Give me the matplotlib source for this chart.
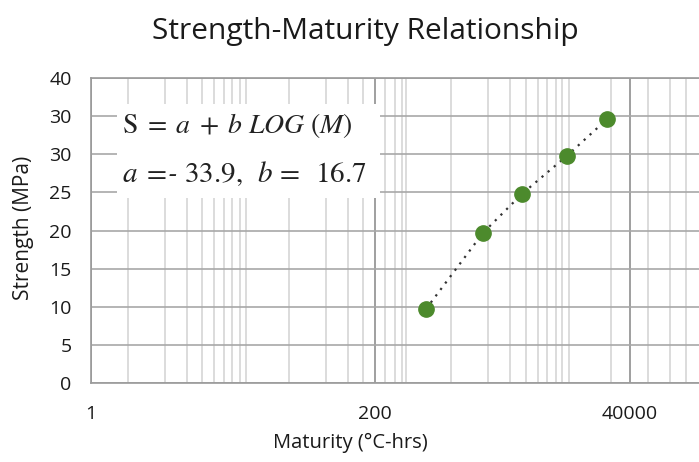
import numpy as np
import matplotlib
matplotlib.use("Agg")
import matplotlib.pyplot as plt
from matplotlib.ticker import FixedLocator
from matplotlib.patches import Rectangle

# ---- data ----
maturity = [577, 1890, 4240, 10800, 24800]      # degC-hrs
strength = [9.7, 19.7, 24.8, 29.8, 34.6]        # MPa

x_major_ticks = [1, 200, 40000]
x_major_labels = ["1", "200", "40000"]
x_minor_ticks = [2, 4, 6, 8, 10, 12, 14, 16, 18, 40, 80, 120, 160,
                 246, 303, 350, 380, 970, 2090, 3300, 4600, 5900, 7100,
                 8600, 9700, 11200, 26700, 58000, 91800, 128000]
y_ticks = [0, 5, 10, 15, 20, 25, 30, 35, 40]
y_labels = ["0", "5", "10", "15", "20", "25", "30", "30", "40"]

title = "Strength-Maturity Relationship"
xlabel = "Maturity (\u00b0C-hrs)"
ylabel = "Strength (MPa)"
eq1 = r"$\mathrm{S}\;=\;a\;+\;b\ LOG\ (M)$"
eq2 = r"$a\;=\!$- $\mathit{33.9},\ \,b\,=\;\;16.7$"

plt.rcParams['font.family'] = ['Open Sans', 'DejaVu Sans']
plt.rcParams['mathtext.fontset'] = 'stix'

# ---- piecewise log scale (axis as drawn in the reference) ----
LA = np.log10(200.0)
S0 = 284.0 / np.log10(200.0)
S1 = 255.0 / np.log10(200.0)


def fwd(x):
    x = np.asarray(x, dtype=float)
    lx = np.log10(np.clip(x, 1e-300, None))
    return np.where(lx < LA, lx * S0, 284.0 + (lx - LA) * S1)


def inv(p):
    p = np.asarray(p, dtype=float)
    return np.where(p < 284.0, 10 ** (p / S0), 10 ** (LA + (p - 284.0) / S1))


W, H = 699, 462
fig = plt.figure(figsize=(W / 100, H / 100), dpi=100)
ax = fig.add_axes([91 / W, 79 / H, 608 / W, 305 / H])

ax.set_xscale('function', functions=(fwd, inv))
ax.set_xlim(1, float(inv(608.0)))
ax.set_ylim(0, 40)

ax.xaxis.set_major_locator(FixedLocator(x_major_ticks))
ax.xaxis.set_minor_locator(FixedLocator(x_minor_ticks))
ax.set_xticks(x_major_ticks)
ax.set_xticklabels(x_major_labels)
ax.set_yticks(y_ticks)
ax.set_yticklabels(y_labels)

ax.tick_params(axis='both', which='both', length=0, labelsize=14,
               labelcolor='#1a1a1a')
ax.tick_params(axis='x', pad=16)
ax.tick_params(axis='y', pad=14)

ax.grid(True, axis='x', which='minor', color='#d2d2d2', linewidth=1.1)
ax.grid(True, axis='x', which='major', color='#8f8f8f', linewidth=1.2)
ax.grid(True, axis='y', which='major', color='#a8a8a8', linewidth=1.2)
ax.set_axisbelow(True)

for side in ['left', 'bottom', 'top']:
    ax.spines[side].set_color('#9a9a9a')
    ax.spines[side].set_linewidth(1.2)
ax.spines['right'].set_visible(False)

ax.plot(maturity, strength, linestyle=(0, (1, 2.6)), color='#333333',
        linewidth=1.6, zorder=3)
ax.plot(maturity, strength, linestyle='none', marker='o', markersize=11,
        markerfacecolor='#4c8a2c', markeredgecolor='#4c8a2c', zorder=4)

# equation box
ax.add_patch(Rectangle((117 / W, 1 - 198 / H), (380 - 117) / W, (198 - 104) / H,
                       transform=fig.transFigure, facecolor='white',
                       edgecolor='none', zorder=5))
fig.text(122 / W, 1 - 133 / H, eq1, fontsize=20, family='STIXGeneral',
         ha='left', va='baseline', color='#222222', zorder=6)
fig.text(122 / W, 1 - 182 / H, eq2, fontsize=21, family='STIXGeneral',
         style='italic', ha='left', va='baseline', color='#222222', zorder=6)

fig.text(365 / W, 1 - 31 / H, title, fontsize=21.5, ha='center', va='center',
         color='#1a1a1a')
fig.text(350 / W, 1 - 443 / H, xlabel, fontsize=14.5, ha='center', va='center',
         color='#1a1a1a')
fig.text(24 / W, 1 - 228 / H, ylabel, fontsize=15, ha='center', va='center',
         rotation=90, color='#1a1a1a')

fig.savefig("out.png", dpi=100)
